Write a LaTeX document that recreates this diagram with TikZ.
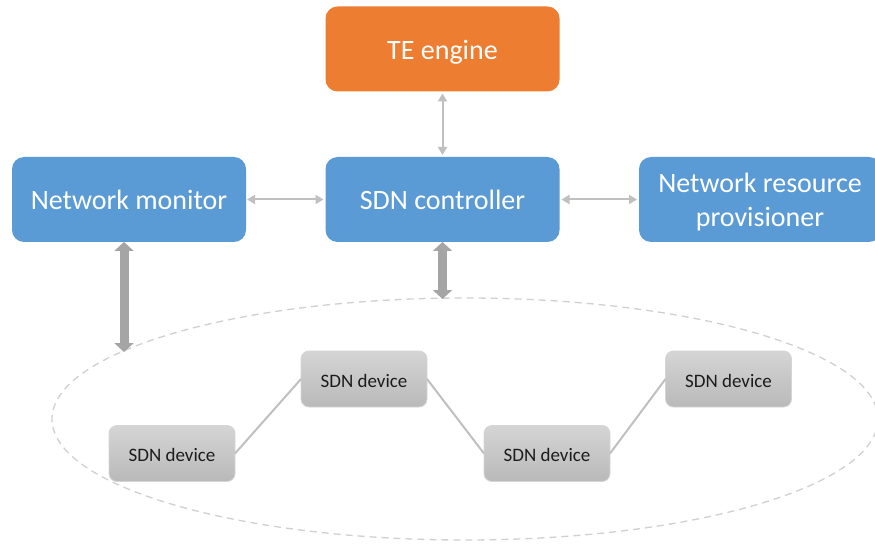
\documentclass[tikz,border=0pt]{standalone}
\usepackage{fontspec}
\setmainfont{Carlito}
\usetikzlibrary{arrows.meta}
\definecolor{boxblue}{HTML}{5B9BD5}
\definecolor{boxorange}{HTML}{ED7D31}
\definecolor{thinarrow}{HTML}{C0C0C0}
\definecolor{thickarrow}{HTML}{A5A5A5}
\definecolor{ringgray}{HTML}{D0D0D0}
\definecolor{devtop}{HTML}{D5D5D5}
\definecolor{devbot}{HTML}{B9B9B9}
\definecolor{devtext}{HTML}{1C1C1C}
\tikzset{
  bigbox/.style={fill=boxblue, rounded corners=12pt, minimum width=234pt,
    minimum height=85pt, inner sep=0pt, outer sep=0pt, text=white,
    text height=21pt, text depth=0pt,
    font=\fontsize{28}{34}\selectfont, align=center},
  devbox/.style={top color=devtop, bottom color=devbot, draw=devtop,
    line width=0.8pt, rounded corners=8pt, minimum width=126pt,
    minimum height=56pt, inner sep=0pt, outer sep=0pt, text=devtext,
    text height=16pt, text depth=0pt,
    font=\fontsize{19}{22}\selectfont},
  thinlink/.style={draw=thinarrow, line width=2pt,
    {Triangle[width=9pt,length=8pt]}-{Triangle[width=9pt,length=8pt]}},
  thicklink/.style={draw=thickarrow, line width=9pt,
    {Triangle[width=19pt,length=9pt]}-{Triangle[width=19pt,length=9pt]}},
  devlink/.style={draw=thinarrow, line width=2pt},
}
\begin{document}
\begin{tikzpicture}[x=1pt,y=-1pt]
  \useasboundingbox[fill=white] (0,0) rectangle (875,545);

  % switching domain
  \draw[ringgray, line width=1.3pt, dash pattern=on 7pt off 5pt]
    (465,419) ellipse [x radius=413, y radius=121];

  % control plane
  \node[bigbox, fill=boxorange] (te) at (442.5,49) {TE engine};
  \node[bigbox] (mon) at (129,199.5) {Network monitor};
  \node[bigbox] (ctl) at (442.5,199.5) {SDN controller};
  \node[bigbox, minimum width=242pt, text height=55pt] (prov) at (760,199.5)
    {Network resource\\provisioner};

  \draw[thinlink, shorten <=2pt, shorten >=2pt] (te.south) -- (ctl.north);
  \draw[thinlink, shorten <=1pt, shorten >=2pt] (mon.east) -- (ctl.west);
  \draw[thinlink, shorten <=2pt, shorten >=2pt] (ctl.east) -- (prov.west);

  % links down to the device domain
  \coordinate (monfoot) at (124,352);
  \coordinate (ctlfoot) at (442.5,299);
  \draw[thicklink] (mon.south -| monfoot) -- (monfoot);
  \draw[thicklink] (ctl.south) -- (ctlfoot);

  % data plane devices
  \node[devbox] (d1) at (172,453.5) {SDN device};
  \node[devbox] (d2) at (364,379) {SDN device};
  \node[devbox] (d3) at (547,453.5) {SDN device};
  \node[devbox] (d4) at (728.5,379) {SDN device};

  \draw[devlink] (d1.east) -- (d2.west);
  \draw[devlink] (d2.east) -- (d3.west);
  \draw[devlink] (d3.east) -- (d4.west);
\end{tikzpicture}
\end{document}
